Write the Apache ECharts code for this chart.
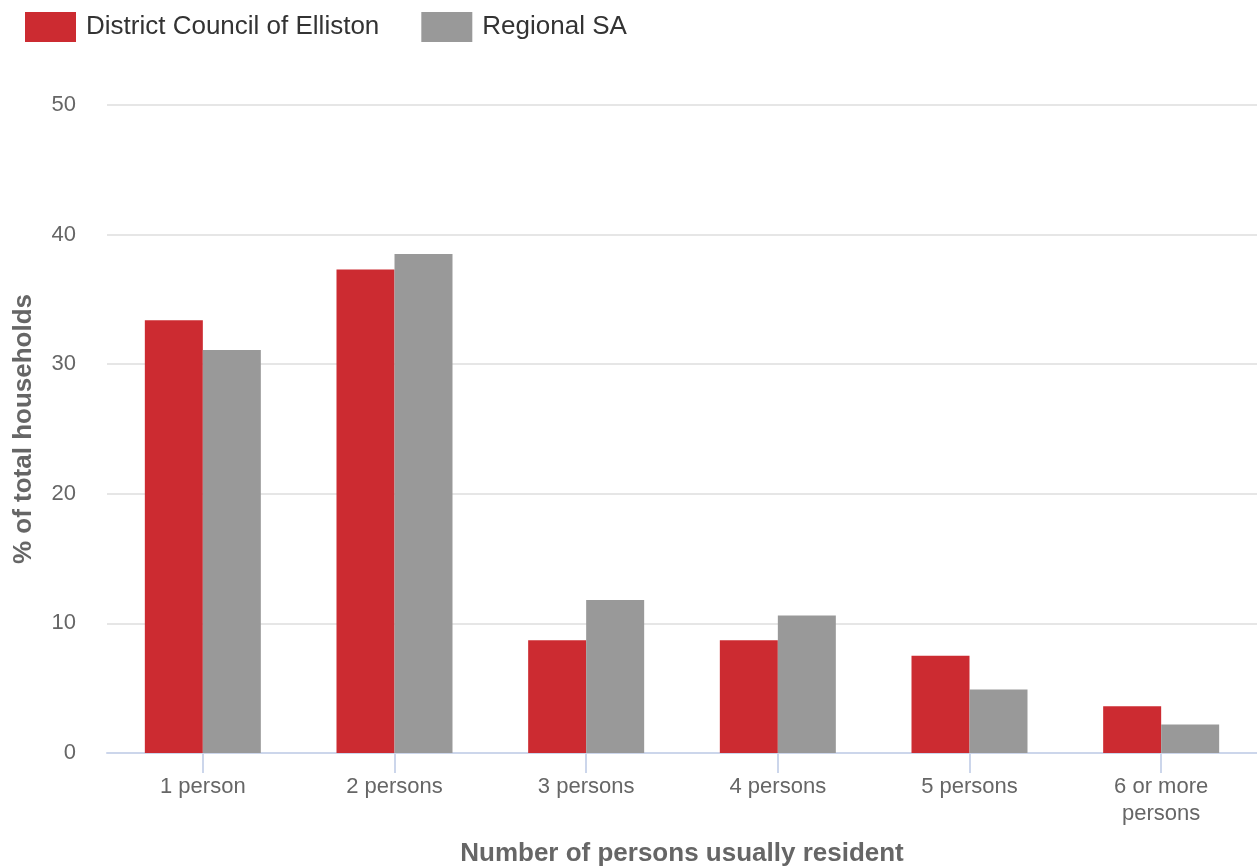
<!DOCTYPE html>
<html><head><meta charset="utf-8">
<script src="https://cdn.jsdelivr.net/npm/echarts@6/dist/echarts.min.js"></script>
<style>html,body{margin:0;padding:0;background:#fff}#c{width:1257px;height:866px}</style>
</head><body><div id="c"></div>
<script>
const categories = ['1 person', '2 persons', '3 persons', '4 persons', '5 persons', '6 or more\npersons'];
const elliston = [33.4, 37.3, 8.7, 8.7, 7.5, 3.6];
const regionalSA = [31.1, 38.5, 11.8, 10.6, 4.9, 2.2];
const yTicks = { min: 0, max: 50, interval: 10 };

const chart = echarts.init(document.getElementById('c'));
const font = '"Liberation Sans", Arial, sans-serif';
chart.setOption({
  animation: false,
  textStyle: { fontFamily: font },
  legend: {
    left: 25, top: 12, itemWidth: 51, itemHeight: 30, itemGap: 42,
    icon: 'rect', padding: 0,
    textStyle: { fontSize: 26, color: '#333', fontFamily: font, padding: [0, 0, 0, 5] },
    data: ['District Council of Elliston', 'Regional SA']
  },
  grid: { left: 107, right: 0, top: 105, bottom: 113, containLabel: false, outerBoundsMode: 'none' },
  xAxis: {
    type: 'category', data: categories,
    axisLine: { lineStyle: { color: '#ccd6eb', width: 2 } },
    axisTick: { show: true, length: 20, alignWithLabel: true, lineStyle: { color: '#ccd6eb', width: 2 } },
    axisLabel: { fontSize: 22, color: '#666', margin: 20, lineHeight: 27, fontFamily: font },
    name: 'Number of persons usually resident', nameLocation: 'middle', nameGap: 88,
    nameTextStyle: { fontSize: 26, fontWeight: 'bold', color: '#666', fontFamily: font }
  },
  yAxis: {
    type: 'value', min: yTicks.min, max: yTicks.max, interval: yTicks.interval,
    axisLine: { show: false }, axisTick: { show: false },
    splitLine: { lineStyle: { color: '#e6e6e6', width: 2 } },
    axisLabel: { fontSize: 22, color: '#666', margin: 31, fontFamily: font },
    name: '% of total households', nameLocation: 'middle', nameGap: 70,
    nameTextStyle: { fontSize: 26, fontWeight: 'bold', color: '#666', fontFamily: font }
  },
  series: [
    { name: 'District Council of Elliston', type: 'bar', data: elliston, barWidth: 58, barGap: '0%',
      itemStyle: { color: '#cc2b31' } },
    { name: 'Regional SA', type: 'bar', data: regionalSA, barWidth: 58, barGap: '0%',
      itemStyle: { color: '#999999' } }
  ]
});
</script></body></html>
